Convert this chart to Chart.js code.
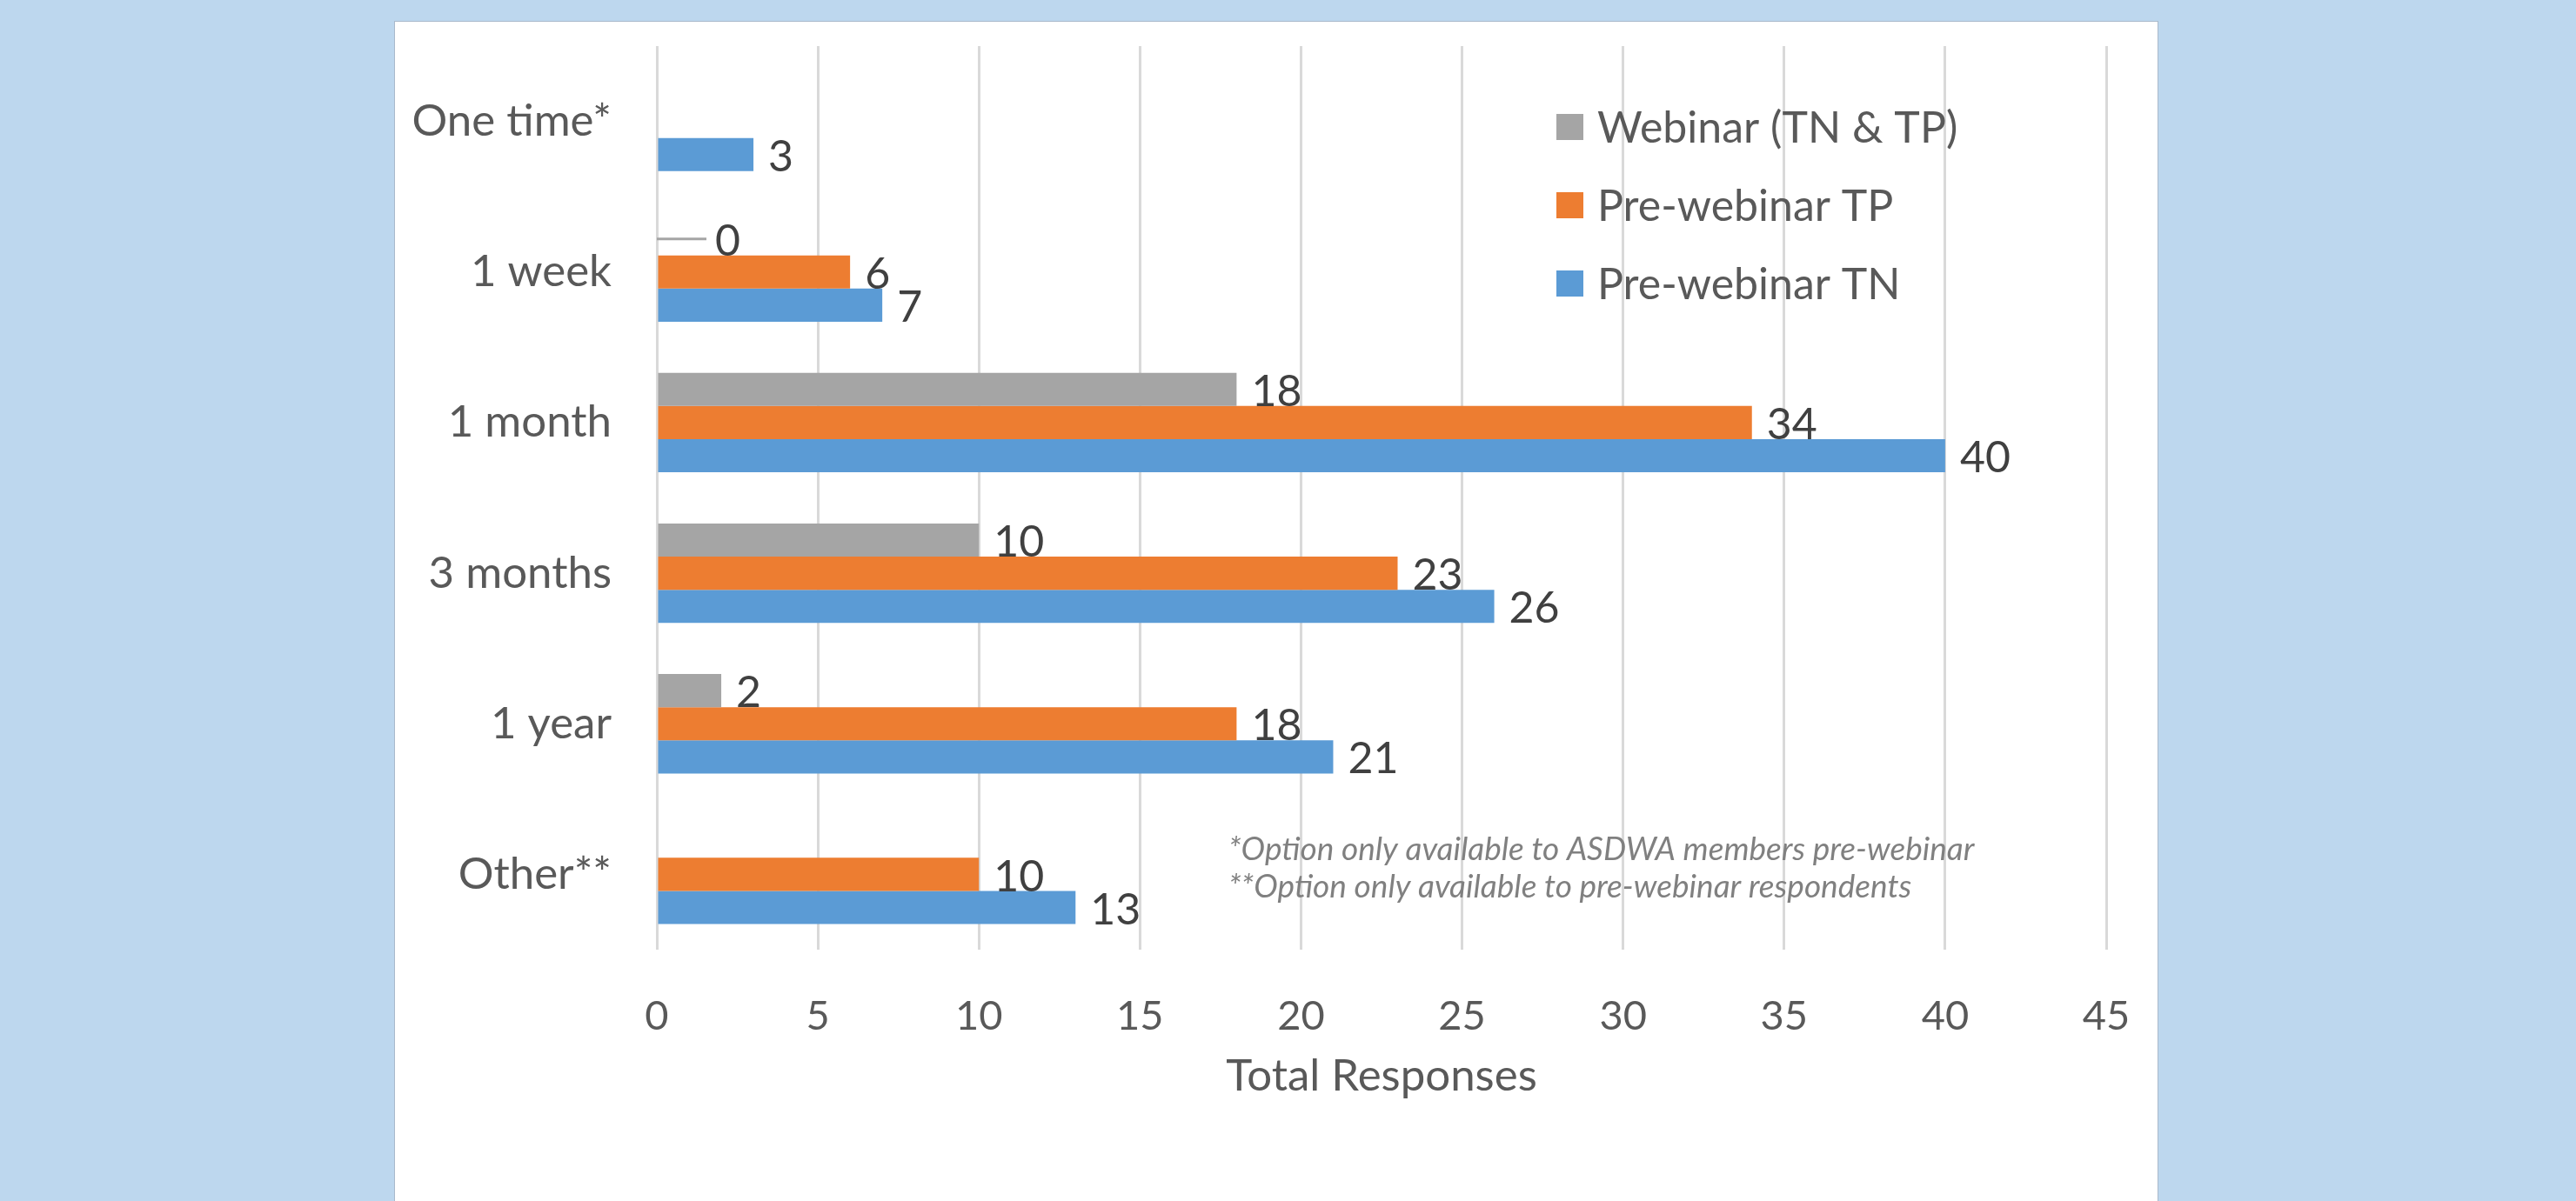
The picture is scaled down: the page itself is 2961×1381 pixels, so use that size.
<!DOCTYPE html>
<html>
<head>
<meta charset="utf-8">
<script src="https://cdn.jsdelivr.net/npm/chart.js@4.4.0/dist/chart.umd.min.js"></script>
<style>
  html, body { margin: 0; padding: 0; background: #BDD7EE; width: 2961px; height: 1381px; overflow: hidden; }
  #panel { position: absolute; left: 453px; top: 24px; width: 2026px; height: 1357px; background: #fff;
           border: 1px solid #A9B9CB; border-bottom: none; }
  #panel canvas { display: block; }
</style>
</head>
<body>
<div id="panel"><canvas id="freq" width="2026" height="1357"></canvas></div>
<script>
// Survey answers: how often respondents want updates
const categories = ['One time*', '1 week', '1 month', '3 months', '1 year', 'Other**'];
const webinarBoth = [null, 0, 18, 10, 2, null];
const preWebinarTP = [null, 6, 34, 23, 18, 10];
const preWebinarTN = [3, 7, 40, 26, 21, 13];
const seriesNames = ['Webinar (TN & TP)', 'Pre-webinar TP', 'Pre-webinar TN'];
const seriesColors = ['#A5A5A5', '#ED7D31', '#5B9BD5'];
const xTicks = [0, 5, 10, 15, 20, 25, 30, 35, 40, 45];
const footnotes = [
    '*Option only available to ASDWA members pre-webinar',
    '**Option only available to pre-webinar respondents'
];

const FONT = 'Lato, "Open Sans", sans-serif';
const TEXT = '#595959';

// value labels at the end of each bar; zero values get a short leader line
const barLabels = {
    id: 'barLabels',
    afterDatasetsDraw(chart) {
        const ctx = chart.ctx;
        ctx.save();
        ctx.font = '50px ' + FONT;
        ctx.fillStyle = '#404040';
        ctx.textAlign = 'left';
        ctx.textBaseline = 'middle';
        chart.data.datasets.forEach((ds, i) => {
            const meta = chart.getDatasetMeta(i);
            meta.data.forEach((bar, j) => {
                const v = ds.data[j];
                if (v === null || v === undefined) return;
                let x = bar.x + 17;
                if (v === 0) {
                    ctx.strokeStyle = ds.backgroundColor;
                    ctx.lineWidth = 3;
                    ctx.beginPath();
                    ctx.moveTo(bar.base, bar.y);
                    ctx.lineTo(bar.base + 57, bar.y);
                    ctx.stroke();
                    x = bar.base + 67;
                }
                ctx.fillText(String(v), x, bar.y + 3);
            });
        });
        ctx.restore();
    }
};

// legend and footnotes drawn inside the plot area
const insideNotes = {
    id: 'insideNotes',
    afterDraw(chart) {
        const ctx = chart.ctx;
        const area = chart.chartArea;
        ctx.save();
        ctx.textAlign = 'left';
        ctx.textBaseline = 'middle';
        ctx.font = '50px ' + FONT;
        chart.data.datasets.forEach((ds, i) => {
            const y = area.top + 93 + i * 90;
            ctx.fillStyle = ds.backgroundColor;
            ctx.fillRect(area.left + 1034, y - 15, 31, 30);
            ctx.fillStyle = TEXT;
            ctx.fillText(ds.label, area.left + 1081, y + 2);
        });
        ctx.font = 'italic 37px ' + FONT;
        ctx.fillStyle = '#808080';
        footnotes.forEach((line, i) => {
            ctx.fillText(line, area.left + 657, area.top + 924 + i * 43);
        });
        ctx.restore();
    }
};

new Chart(document.getElementById('freq').getContext('2d'), {
    type: 'bar',
    data: {
        labels: categories,
        datasets: [webinarBoth, preWebinarTP, preWebinarTN].map((d, i) => ({
            label: seriesNames[i],
            data: d,
            backgroundColor: seriesColors[i],
            borderWidth: 0,
            categoryPercentage: 0.66,
            barPercentage: 1.0
        }))
    },
    options: {
        indexAxis: 'y',
        responsive: false,
        animation: false,
        layout: { padding: { left: 0, right: 59, top: 28, bottom: 50 } },
        plugins: {
            legend: { display: false },
            tooltip: { enabled: false }
        },
        scales: {
            x: {
                min: 0,
                max: 45,
                afterBuildTicks: (scale) => { scale.ticks = xTicks.map(v => ({ value: v })); },
                afterFit: (scale) => {
                    scale.height = 240;
                    scale.paddingLeft = 0;
                    scale.paddingRight = 0;
                },
                grid: { color: '#D9D9D9', lineWidth: 3, drawTicks: false },
                border: { display: false },
                ticks: { color: TEXT, font: { family: FONT, size: 47 }, padding: 49 },
                title: {
                    display: true,
                    text: 'Total Responses',
                    color: TEXT,
                    font: { family: FONT, size: 51 },
                    padding: { top: 0, bottom: 64 }
                }
            },
            y: {
                afterFit: (scale) => {
                    scale.width = 301;
                    scale.paddingTop = 0;
                    scale.paddingBottom = 0;
                },
                grid: { display: false, drawTicks: false },
                border: { display: false },
                ticks: { color: TEXT, font: { family: FONT, size: 51 }, padding: 52 }
            }
        }
    },
    plugins: [barLabels, insideNotes]
});
</script>
</body>
</html>
